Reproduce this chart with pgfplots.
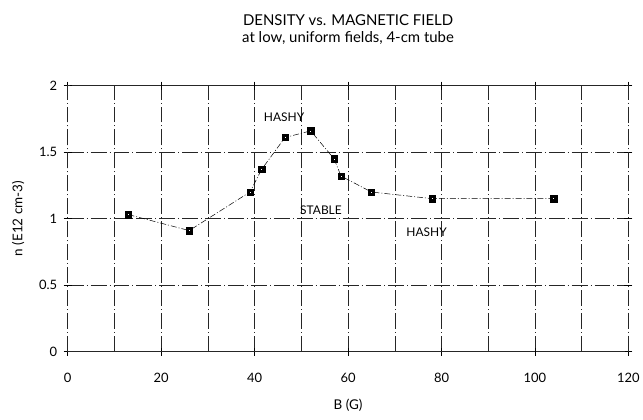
\documentclass[border=0pt]{standalone}
\usepackage{pgfplots}
\pgfplotsset{compat=1.18}
\usepackage{fontspec}
\setmainfont{Lato}
\begin{document}
\begin{tikzpicture}
\begin{axis}[
  scale only axis,
  width=563pt, height=267pt,
  xmin=0, xmax=120, ymin=0, ymax=2,
  xtick={0,20,...,120},
  minor xtick={10,30,...,110},
  ytick={0,0.5,...,2},
  grid=both,
  grid style={black!85, line width=0.45pt, dash pattern=on 16pt off 3pt on 1pt off 3pt},
  minor grid style={black!85, line width=0.45pt, dash pattern=on 16pt off 3pt on 1pt off 3pt},
  axis line style={black!85, line width=0.45pt, dash pattern=on 16pt off 3pt on 1pt off 3pt},
  tick align=center,
  major tick length=8pt, minor tick length=0pt,
  tick style={black, line width=0.5pt},
  /pgf/number format/assume math mode=true,
  ticklabel style={font=\fontsize{13}{15}\selectfont},
  yticklabel style={xshift=-3pt},
  xticklabel style={yshift=-14pt},
  xlabel={B (G)},
  ylabel={n (E12 cm-3)},
  label style={font=\fontsize{13.5}{15}\selectfont},
  xlabel style={yshift=-10pt},
  ylabel style={yshift=8pt},
  title={DENSITY vs. MAGNETIC FIELD\\at low, uniform fields, 4-cm tube},
  title style={align=center, font=\fontsize{15}{17}\selectfont, yshift=32pt},
]
\addplot[black, line width=0.5pt, dash pattern=on 6pt off 2pt on 1pt off 2pt,
  mark=square*, mark size=3.2pt,
  mark options={solid, fill=black, draw=black}]
coordinates {
(13,1.03) (26,0.91) (39,1.20) (41.5,1.37) (46.5,1.61) (52,1.66)
(57,1.45) (58.5,1.32) (65,1.20) (78,1.15) (104,1.15)
};
\addplot[only marks, mark=square*, mark size=1pt, mark options={fill=white, draw=none}]
coordinates {
(13,1.03) (26,0.91) (39,1.20) (41.5,1.37) (46.5,1.61) (52,1.66)
(57,1.45) (58.5,1.32) (65,1.20) (78,1.15) (104,1.15)
};
\node[font=\fontsize{12}{14}\selectfont] at (axis cs:46.3,1.76) {HASHY};
\node[font=\fontsize{12}{14}\selectfont] at (axis cs:54.2,1.06) {STABLE};
\node[font=\fontsize{12}{14}\selectfont] at (axis cs:76.8,0.90) {HASHY};
\end{axis}
\path (current axis.south west) ++(-68pt,-68pt) rectangle ++(643pt,421pt);
\end{tikzpicture}
\end{document}
